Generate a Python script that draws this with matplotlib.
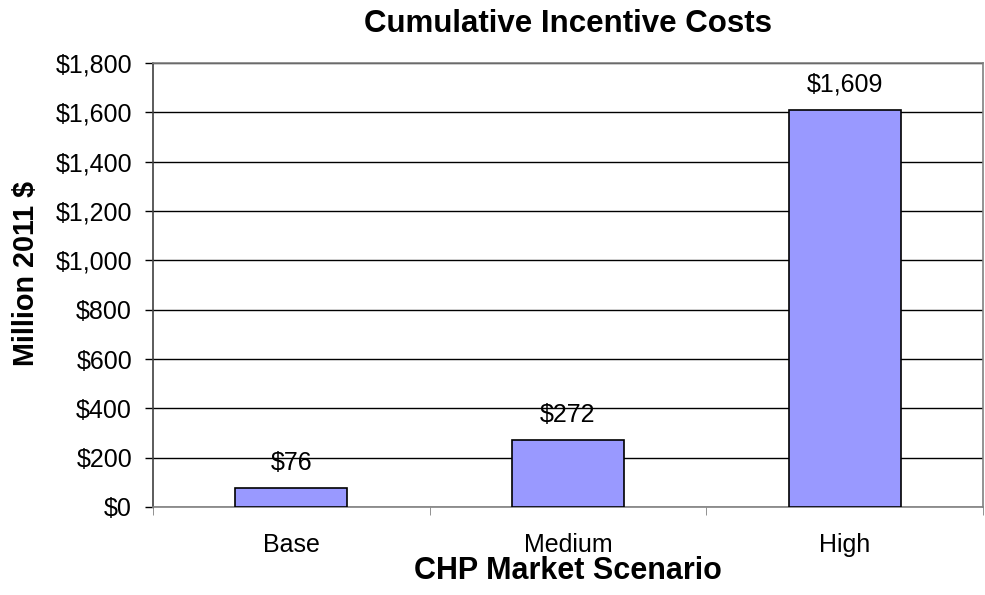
import matplotlib.pyplot as plt
from matplotlib.ticker import FuncFormatter

# 데이터
scenarios = ['Base', 'Medium', 'High']
costs = [76, 272, 1609]
y_ticks = list(range(0, 1801, 200))

plt.rcParams['font.family'] = ['Liberation Sans', 'DejaVu Sans']

fig = plt.figure(figsize=(9.85, 5.95), dpi=100)
ax = fig.add_axes([0.1553, 0.1479, 0.8427, 0.7462])

x = list(range(len(scenarios)))
bars = ax.bar(x, costs, width=0.405, color='#9999FF', edgecolor='black', linewidth=1.2, zorder=3)

# 값 표시
for xi, val in zip(x, costs):
    ax.annotate(f'${val:,}', xy=(xi, val), xytext=(0, 9.5), textcoords='offset points',
                ha='center', va='bottom', fontsize=18)

ax.set_xlim(-0.5, 2.5)
ax.set_ylim(0, 1800)
ax.set_yticks(y_ticks)
ax.yaxis.set_major_formatter(FuncFormatter(lambda v, p: f'${int(v):,}'))
ax.set_xticks(x)
ax.set_xticklabels(scenarios)
ax.set_xticks([-0.5, 0.5, 1.5, 2.5], minor=True)
ax.tick_params(axis='x', which='major', length=0, pad=19, labelsize=18)
ax.tick_params(axis='x', which='minor', length=6, color='#808080', direction='out')
ax.tick_params(axis='y', length=6, width=1, color='black', pad=9, labelsize=18)

ax.grid(axis='y', color='black', linewidth=1, zorder=0)
for side in ['top', 'right', 'bottom']:
    ax.spines[side].set_color('#808080')
    ax.spines[side].set_linewidth(1.2)
ax.spines['left'].set_color('#404040')
ax.spines['left'].set_linewidth(1.2)

ax.set_title('Cumulative Incentive Costs', fontsize=22.5, fontweight='bold', pad=22)
ax.set_xlabel('CHP Market Scenario', fontsize=22, fontweight='bold', labelpad=-1)
ax.set_ylabel('Million 2011 $', fontsize=20.7, fontweight='bold', labelpad=11)
ax.yaxis.label.set_y(0.527)

plt.savefig('out.png', dpi=100)
